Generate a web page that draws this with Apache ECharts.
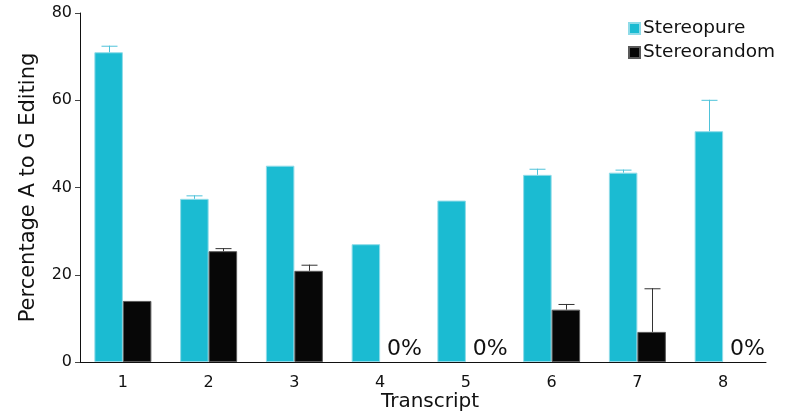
<!DOCTYPE html>
<html>
<head>
<meta charset="utf-8">
<script src="https://cdn.jsdelivr.net/npm/echarts@6/dist/echarts.min.js"></script>
<style>
  html, body { margin: 0; padding: 0; background: #fff; }
  #chart { width: 790px; height: 414px; }
</style>
</head>
<body>
<div id="chart"></div>
<script>
// Percentage of A-to-G editing per transcript
const categories = ['1', '2', '3', '4', '5', '6', '7', '8'];
const pureValues = [71.0, 37.4, 45.0, 27.0, 37.0, 42.9, 43.4, 52.9];
const pureErrors = [1.5, 0.8, 0, 0, 0, 1.4, 0.7, 7.2];
const randomValues = [14.0, 25.4, 20.9, 0, 0, 12.0, 6.9, 0];
const randomErrors = [0, 0.7, 1.4, 0, 0, 1.3, 10.0, 0];
const yTicks = [0, 20, 40, 60, 80];

const FONT = 'DejaVu Sans';
const BAR_W = 28.5;
const CYAN = '#1bbbd2';
const BLACK = '#070707';

const chart = echarts.init(document.getElementById('chart'), null, { renderer: 'canvas' });

// zero-height bars get no outline so nothing shows on the axis
function barData(values) {
  return values.map(v => (v === 0 ? { value: 0, itemStyle: { borderWidth: 0 } } : v));
}

// upper-only error whiskers drawn on top of a bar series
function errorSeries(values, errors, side, color) {
  const data = values.map((v, i) => [i, v, v + errors[i], errors[i]]);
  return {
    type: 'custom',
    z: 5,
    silent: true,
    data: data,
    encode: { x: 0, y: [1, 2] },
    renderItem: function (params, api) {
      const err = api.value(3);
      if (!err) return null;
      const base = api.coord([api.value(0), api.value(1)]);
      const top = api.coord([api.value(0), api.value(2)]);
      const x = Math.round(base[0] + side * BAR_W / 2) + 0.5;
      const cap = 8;
      const style = { stroke: color, lineWidth: 1 };
      return {
        type: 'group',
        children: [
          { type: 'line', shape: { x1: x, y1: base[1], x2: x, y2: top[1] }, style: style },
          { type: 'line', shape: { x1: x - cap, y1: top[1] + 0.5, x2: x + cap, y2: top[1] + 0.5 }, style: style }
        ]
      };
    }
  };
}

const option = {
  animation: false,
  backgroundColor: '#ffffff',
  textStyle: { fontFamily: FONT },
  grid: { left: 80, right: 24, top: 13, bottom: 52, containLabel: false, outerBoundsMode: 'none' },
  legend: {
    orient: 'vertical',
    left: 623,
    top: 14,
    itemWidth: 11,
    itemHeight: 11,
    itemGap: 5,
    icon: 'rect',
    textStyle: { fontFamily: FONT, fontSize: 18.5, color: '#111', padding: [0, 0, 0, -2] },
    data: ['Stereopure', 'Stereorandom']
  },
  xAxis: {
    type: 'category',
    data: categories,
    name: 'Transcript',
    nameLocation: 'middle',
    nameGap: 30,
    nameMoveOverlap: false,
    nameTextStyle: { fontFamily: FONT, fontSize: 20, color: '#111', padding: [0, 0, 0, 14] },
    axisLine: { lineStyle: { color: '#111', width: 1 } },
    axisTick: { alignWithLabel: true, length: 5, lineStyle: { color: '#444' } },
    axisLabel: { fontFamily: FONT, fontSize: 16, color: '#111', margin: 13 }
  },
  yAxis: {
    type: 'value',
    min: 0,
    max: 80,
    interval: 20,
    name: 'Percentage A to G Editing',
    nameLocation: 'middle',
    nameGap: 41,
    nameMoveOverlap: false,
    nameTextStyle: { fontFamily: FONT, fontSize: 21, color: '#111' },
    axisLine: { show: true, lineStyle: { color: '#111', width: 1 } },
    axisTick: { show: true, length: 5, lineStyle: { color: '#444' } },
    axisLabel: {
      fontFamily: FONT, fontSize: 16, color: '#111', margin: 8,
      formatter: v => (yTicks.includes(v) ? String(v) : '')
    },
    splitLine: { show: false }
  },
  series: [
    {
      name: 'Stereopure',
      type: 'bar',
      data: barData(pureValues),
      barWidth: BAR_W,
      barGap: '0%',
      itemStyle: { color: CYAN, borderColor: '#8fdbe8', borderWidth: 1 }
    },
    {
      name: 'Stereorandom',
      type: 'bar',
      data: barData(randomValues),
      barWidth: BAR_W,
      barGap: '0%',
      itemStyle: { color: BLACK, borderColor: '#5a5a5a', borderWidth: 1 },
      label: {
        show: true,
        position: 'top',
        distance: 2,
        offset: [10, 0],
        fontFamily: FONT,
        fontSize: 22,
        color: '#111',
        formatter: p => (p.value === 0 ? '0%' : '')
      }
    },
    errorSeries(pureValues, pureErrors, -1, '#4fc3da'),
    errorSeries(randomValues, randomErrors, 1, '#333333')
  ]
};

chart.setOption(option);
</script>
</body>
</html>
